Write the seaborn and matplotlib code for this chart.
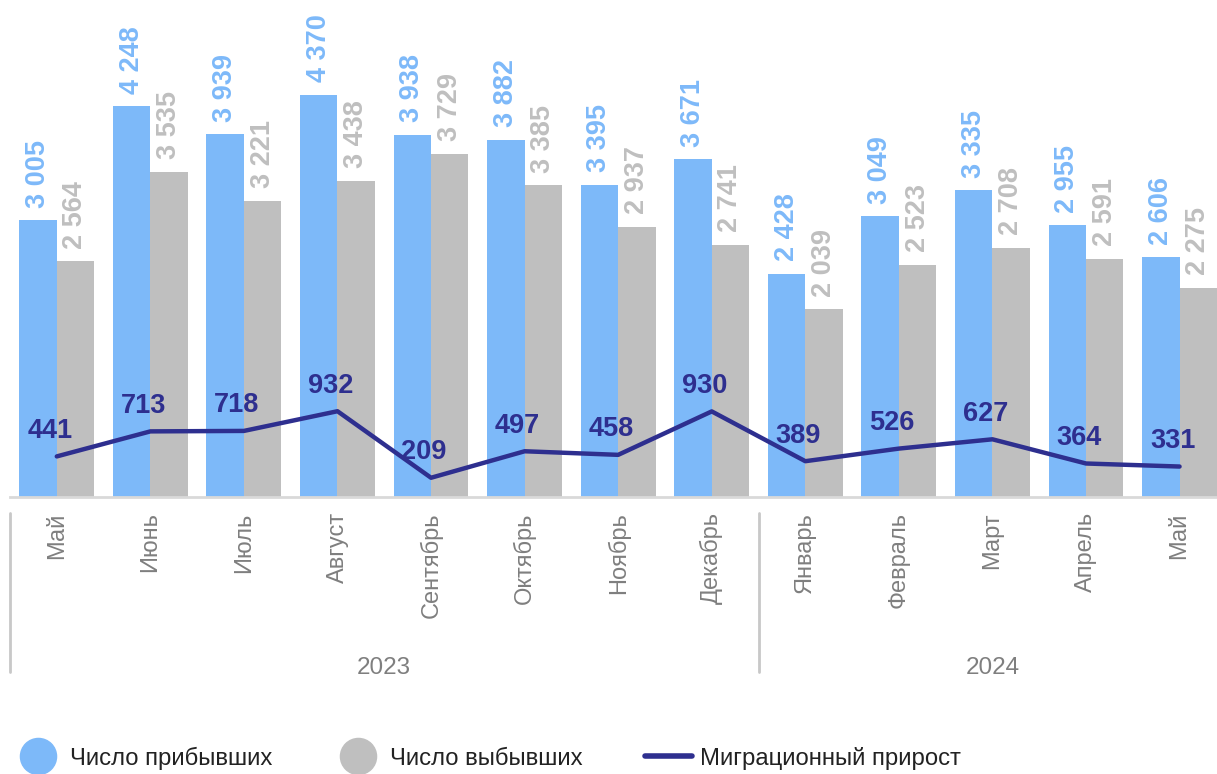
import matplotlib
matplotlib.use("Agg")
import matplotlib.pyplot as plt
from matplotlib.lines import Line2D
import seaborn as sns
import pandas as pd

# data
months = ["Май", "Июнь", "Июль", "Август", "Сентябрь", "Октябрь", "Ноябрь",
          "Декабрь", "Январь", "Февраль", "Март", "Апрель", "Май"]
years = ["2023", "2024"]
year_sizes = [8, 5]
arrivals = [3005, 4248, 3939, 4370, 3938, 3882, 3395, 3671, 2428, 3049, 3335, 2955, 2606]
departures = [2564, 3535, 3221, 3438, 3729, 3385, 2937, 2741, 2039, 2523, 2708, 2591, 2275]
growth = [441, 713, 718, 932, 209, 497, 458, 930, 389, 526, 627, 364, 331]
series_names = ["Число прибывших", "Число выбывших", "Миграционный прирост"]

blue = "#7db9f9"
gray = "#bfbfbf"
navy = "#2e2f8f"
text_gray = "#7f7f7f"

sns.set_theme(style="white")
plt.rcParams["font.family"] = ["Liberation Sans", "DejaVu Sans"]

n = len(months)
df = pd.DataFrame({
    "idx": list(range(n)) * 2,
    "value": arrivals + departures,
    "series": [series_names[0]] * n + [series_names[1]] * n,
})

fig = plt.figure(figsize=(12.17, 7.74), dpi=100)
ax = fig.add_axes([10 / 1217, 1 - 497 / 774, 1207 / 1217, 497 / 774])

sns.barplot(data=df, x="idx", y="value", hue="series", palette=[blue, gray],
            width=0.8, linewidth=0, saturation=1, ax=ax, legend=False)
sns.lineplot(x=list(range(n)), y=growth, color=navy, linewidth=3.2, ax=ax)

# value labels on the bars
for cont, col in zip(ax.containers, [blue, gray]):
    for bar in cont:
        h = bar.get_height()
        ax.annotate(f"{int(h):,}".replace(",", " "),
                    (bar.get_x() + bar.get_width() / 2, h),
                    xytext=(0, 9), textcoords="offset points",
                    rotation=90, ha="center", va="bottom",
                    fontsize=19.5, fontweight="bold", color=col)

# labels on the line
for i, v in enumerate(growth):
    ax.annotate(str(v), (i, v), xytext=(-5, 9), textcoords="offset points",
                ha="center", va="bottom", fontsize=19.5, fontweight="bold", color=navy)

ax.set_xlim(-0.5, 12.4)
ax.set_ylim(0, 5400)
ax.set_xlabel("")
ax.set_ylabel("")
ax.set_yticks([])
ax.set_xticks(range(n))
ax.set_xticklabels(months, rotation=90, va="top", fontsize=17, color=text_gray)
ax.tick_params(axis="x", length=0, pad=11)
for side in ["top", "right", "left"]:
    ax.spines[side].set_visible(False)
ax.spines["bottom"].set_color("#d9d9d9")
ax.spines["bottom"].set_linewidth(2)

# year groups below the month labels
trans = ax.get_xaxis_transform()
start = 0
bounds = [-0.5]
for yr, size in zip(years, year_sizes):
    center = start + (size - 1) / 2
    ax.text(center, -0.345, yr, transform=trans, ha="center", va="center",
            fontsize=17.5, color=text_gray)
    start += size
    bounds.append(start - 0.5)
for b in bounds[:-1]:
    ax.plot([b, b], [-0.032, -0.352], transform=trans, color="#c8c8c8",
            linewidth=2, clip_on=False)

handles = [
    Line2D([], [], marker="o", linestyle="none", markersize=26,
           markerfacecolor=blue, markeredgecolor=blue),
    Line2D([], [], marker="o", linestyle="none", markersize=26,
           markerfacecolor=gray, markeredgecolor=gray),
    Line2D([], [], color=navy, linewidth=4),
]
fig.legend(handles, series_names, loc="center left", bbox_to_anchor=(14 / 1217, 16 / 774),
           ncol=3, frameon=False, fontsize=17.2, handlelength=2.0, handletextpad=0.33,
           columnspacing=2.6, borderpad=0, borderaxespad=0, labelcolor="#222222")

fig.savefig("out.png", dpi=100)
